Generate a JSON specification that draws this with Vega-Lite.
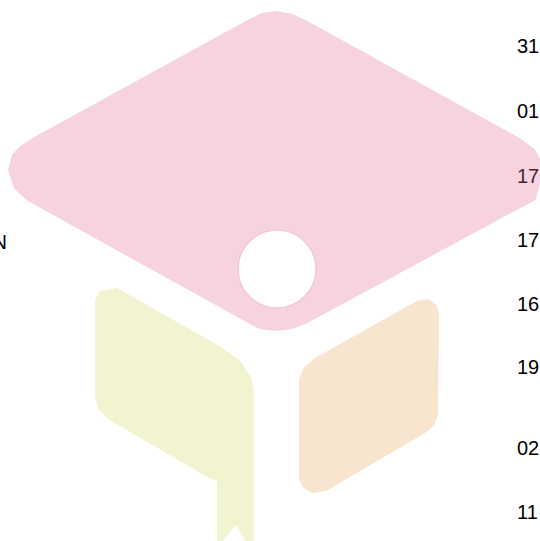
{
  "$schema": "https://vega.github.io/schema/vega-lite/v6.json",
  "width": 540,
  "height": 541,
  "autosize": {"type": "none"},
  "padding": 0,
  "background": "white",
  "config": {"view": {"stroke": null}},
  "datasets": {
    "labels": [
      {"label": "31", "x": 517, "y": 47},
      {"label": "01", "x": 517, "y": 112},
      {"label": "17", "x": 517, "y": 177},
      {"label": "17", "x": 517, "y": 241},
      {"label": "16", "x": 517, "y": 305},
      {"label": "19", "x": 517, "y": 368},
      {"label": "02", "x": 517, "y": 449},
      {"label": "11", "x": 517, "y": 513}
    ],
    "left": [{"label": "N", "x": 7, "y": 243}],
    "shapes": [
      {"shape": "cap", "i": 1, "x": 248, "y": 21},
      {"shape": "cap", "i": 2, "x": 262, "y": 14},
      {"shape": "cap", "i": 3, "x": 276, "y": 12},
      {"shape": "cap", "i": 4, "x": 292, "y": 15},
      {"shape": "cap", "i": 5, "x": 305, "y": 21},
      {"shape": "cap", "i": 6, "x": 521, "y": 140},
      {"shape": "cap", "i": 7, "x": 534, "y": 150},
      {"shape": "cap", "i": 8, "x": 543, "y": 166},
      {"shape": "cap", "i": 9, "x": 535, "y": 199},
      {"shape": "cap", "i": 10, "x": 307, "y": 322},
      {"shape": "cap", "i": 11, "x": 292, "y": 328},
      {"shape": "cap", "i": 12, "x": 276, "y": 330},
      {"shape": "cap", "i": 13, "x": 260, "y": 328},
      {"shape": "cap", "i": 14, "x": 250, "y": 323},
      {"shape": "cap", "i": 15, "x": 28, "y": 200},
      {"shape": "cap", "i": 16, "x": 15, "y": 188},
      {"shape": "cap", "i": 17, "x": 9, "y": 170},
      {"shape": "cap", "i": 18, "x": 13, "y": 155},
      {"shape": "cap", "i": 19, "x": 22, "y": 146},
      {"shape": "cap", "i": 20, "x": 33, "y": 139},
      {"shape": "cap", "i": 21, "x": 248, "y": 21},
      {"shape": "page", "i": 1, "x": 100, "y": 292},
      {"shape": "page", "i": 2, "x": 117, "y": 289},
      {"shape": "page", "i": 3, "x": 221, "y": 348},
      {"shape": "page", "i": 4, "x": 240, "y": 362},
      {"shape": "page", "i": 5, "x": 250, "y": 378},
      {"shape": "page", "i": 6, "x": 253, "y": 392},
      {"shape": "page", "i": 7, "x": 253, "y": 541},
      {"shape": "page", "i": 8, "x": 247, "y": 541},
      {"shape": "page", "i": 9, "x": 236, "y": 523},
      {"shape": "page", "i": 10, "x": 221, "y": 541},
      {"shape": "page", "i": 11, "x": 218, "y": 541},
      {"shape": "page", "i": 12, "x": 218, "y": 480},
      {"shape": "page", "i": 13, "x": 209, "y": 477},
      {"shape": "page", "i": 14, "x": 108, "y": 418},
      {"shape": "page", "i": 15, "x": 99, "y": 408},
      {"shape": "page", "i": 16, "x": 96, "y": 396},
      {"shape": "page", "i": 17, "x": 96, "y": 300},
      {"shape": "page", "i": 18, "x": 100, "y": 292},
      {"shape": "cover", "i": 1, "x": 300, "y": 380},
      {"shape": "cover", "i": 2, "x": 305, "y": 368},
      {"shape": "cover", "i": 3, "x": 315, "y": 359},
      {"shape": "cover", "i": 4, "x": 417, "y": 302},
      {"shape": "cover", "i": 5, "x": 428, "y": 300},
      {"shape": "cover", "i": 6, "x": 436, "y": 306},
      {"shape": "cover", "i": 7, "x": 438, "y": 315},
      {"shape": "cover", "i": 8, "x": 437, "y": 415},
      {"shape": "cover", "i": 9, "x": 433, "y": 425},
      {"shape": "cover", "i": 10, "x": 425, "y": 432},
      {"shape": "cover", "i": 11, "x": 326, "y": 490},
      {"shape": "cover", "i": 12, "x": 312, "y": 492},
      {"shape": "cover", "i": 13, "x": 303, "y": 486},
      {"shape": "cover", "i": 14, "x": 300, "y": 478},
      {"shape": "cover", "i": 15, "x": 300, "y": 380}
    ],
    "hole": [{"x": 277, "y": 269}]
  },
  "encoding": {
    "x": {"field": "x", "type": "quantitative", "scale": {"domain": [0, 540], "nice": false, "zero": false}, "axis": null},
    "y": {"field": "y", "type": "quantitative", "scale": {"domain": [0, 541], "nice": false, "zero": false, "reverse": true}, "axis": null}
  },
  "layer": [
    {
      "data": {"name": "labels"},
      "mark": {"type": "text", "font": "Liberation Sans", "fontSize": 20, "color": "black", "baseline": "middle", "align": "left", "clip": true},
      "encoding": {"text": {"field": "label", "type": "nominal"}}
    },
    {
      "data": {"name": "left"},
      "mark": {"type": "text", "font": "Liberation Sans", "fontSize": 20, "color": "black", "baseline": "middle", "align": "right", "clip": true},
      "encoding": {"text": {"field": "label", "type": "nominal"}}
    },
    {
      "data": {"name": "shapes"},
      "transform": [{"filter": "datum.shape === 'cap'"}],
      "mark": {"type": "line", "fill": "#e47098", "stroke": "#e47098", "strokeWidth": 2, "strokeJoin": "round", "opacity": 0.3, "clip": true},
      "encoding": {"order": {"field": "i", "type": "quantitative"}}
    },
    {
      "data": {"name": "shapes"},
      "transform": [{"filter": "datum.shape === 'page'"}],
      "mark": {"type": "line", "fill": "#d7da69", "stroke": "#d7da69", "strokeWidth": 2, "strokeJoin": "round", "opacity": 0.3, "clip": true},
      "encoding": {"order": {"field": "i", "type": "quantitative"}}
    },
    {
      "data": {"name": "shapes"},
      "transform": [{"filter": "datum.shape === 'cover'"}],
      "mark": {"type": "line", "fill": "#e8ac62", "stroke": "#e8ac62", "strokeWidth": 2, "strokeJoin": "round", "opacity": 0.3, "clip": true},
      "encoding": {"order": {"field": "i", "type": "quantitative"}}
    },
    {
      "data": {"name": "hole"},
      "mark": {"type": "point", "shape": "circle", "filled": true, "fill": "white", "opacity": 1, "size": 6084, "stroke": "#f3c9d6", "strokeWidth": 1.5, "clip": true}
    }
  ]
}
